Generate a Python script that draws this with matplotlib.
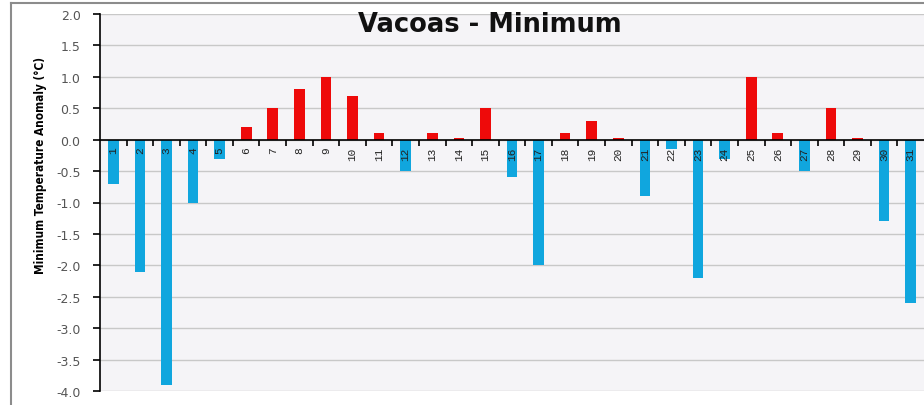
import numpy as np
import matplotlib
matplotlib.use('Agg')
import matplotlib.pyplot as plt
from matplotlib.lines import Line2D
from matplotlib.ticker import FuncFormatter, MultipleLocator

# daily anomalies for the month
days = list(range(1, 32))
anomaly = [-0.7, -2.1, -3.9, -1.0, -0.3, 0.2, 0.5, 0.8, 1.0, 0.7,
           0.1, -0.5, 0.1, 0.02, 0.5, -0.6, -2.0, 0.1, 0.3, 0.02,
           -0.9, -0.15, -2.2, -0.3, 1.0, 0.1, -0.5, 0.5, 0.02, -1.3,
           -2.6]
title = 'Vacoas - Minimum'
ylabel = 'Minimum Temperature Anomaly (°C)'

blue = '#10a6de'
red = '#ee0a0a'

fig = plt.figure(figsize=(9.24, 4.06), dpi=100)
ax = fig.add_axes([100/924, 14/406, 824/924, 377/406])
ax.set_facecolor('#f5f4f7')

ax.set_xlim(0.5, 31.5)
ax.set_ylim(-4.0, 2.0)
ax.yaxis.set_major_locator(MultipleLocator(0.5))
ax.yaxis.set_major_formatter(FuncFormatter(lambda v, p: '%.1f' % v))

# gridlines drawn under the bars, axis (with day labels) drawn over them
for g in np.arange(-4.0, 2.01, 0.5):
    ax.axhline(g, color='#c8c8c8', linewidth=1, zorder=1)
colors = [red if v > 0 else blue for v in anomaly]
ax.bar(days, anomaly, width=0.4, color=colors, zorder=2)
ax.set_axisbelow(False)

for s in ['top', 'right']:
    ax.spines[s].set_visible(False)
ax.spines['left'].set_linewidth(1.2)
ax.spines['bottom'].set_position(('data', 0))
ax.spines['bottom'].set_linewidth(1.2)

ax.set_xticks(days)
ax.set_xticklabels([str(d) for d in days], rotation=90,
                   family=['Liberation Mono', 'DejaVu Sans'], fontsize=8,
                   color='#222222')
ax.set_xticks(np.arange(1.5, 31, 1), minor=True)
ax.tick_params(axis='x', which='major', length=0, pad=5)
ax.tick_params(axis='x', which='minor', length=4, width=1.2, direction='out')
ax.tick_params(axis='y', length=5, width=1.2, pad=9, labelsize=9,
               labelcolor='#555555')

ax.set_ylabel(ylabel, family=['Liberation Sans Narrow', 'DejaVu Sans'],
              fontstretch='condensed', fontweight='bold', fontsize=8.5)
ax.yaxis.set_label_coords(-0.064, 0.6)

fig.text(490/924, 1 - 25/406, title, ha='center', va='center',
         fontsize=18.5, fontweight='bold', color='#111111')

# outer chart frame (top and left edges visible)
fig.add_artist(Line2D([11/924, 1.0], [1 - 4/406, 1 - 4/406],
                      color='#8c8c8c', linewidth=1.5))
fig.add_artist(Line2D([11/924, 11/924], [0, 1 - 4/406],
                      color='#8c8c8c', linewidth=1.5))

fig.savefig('out.png', dpi=100)
